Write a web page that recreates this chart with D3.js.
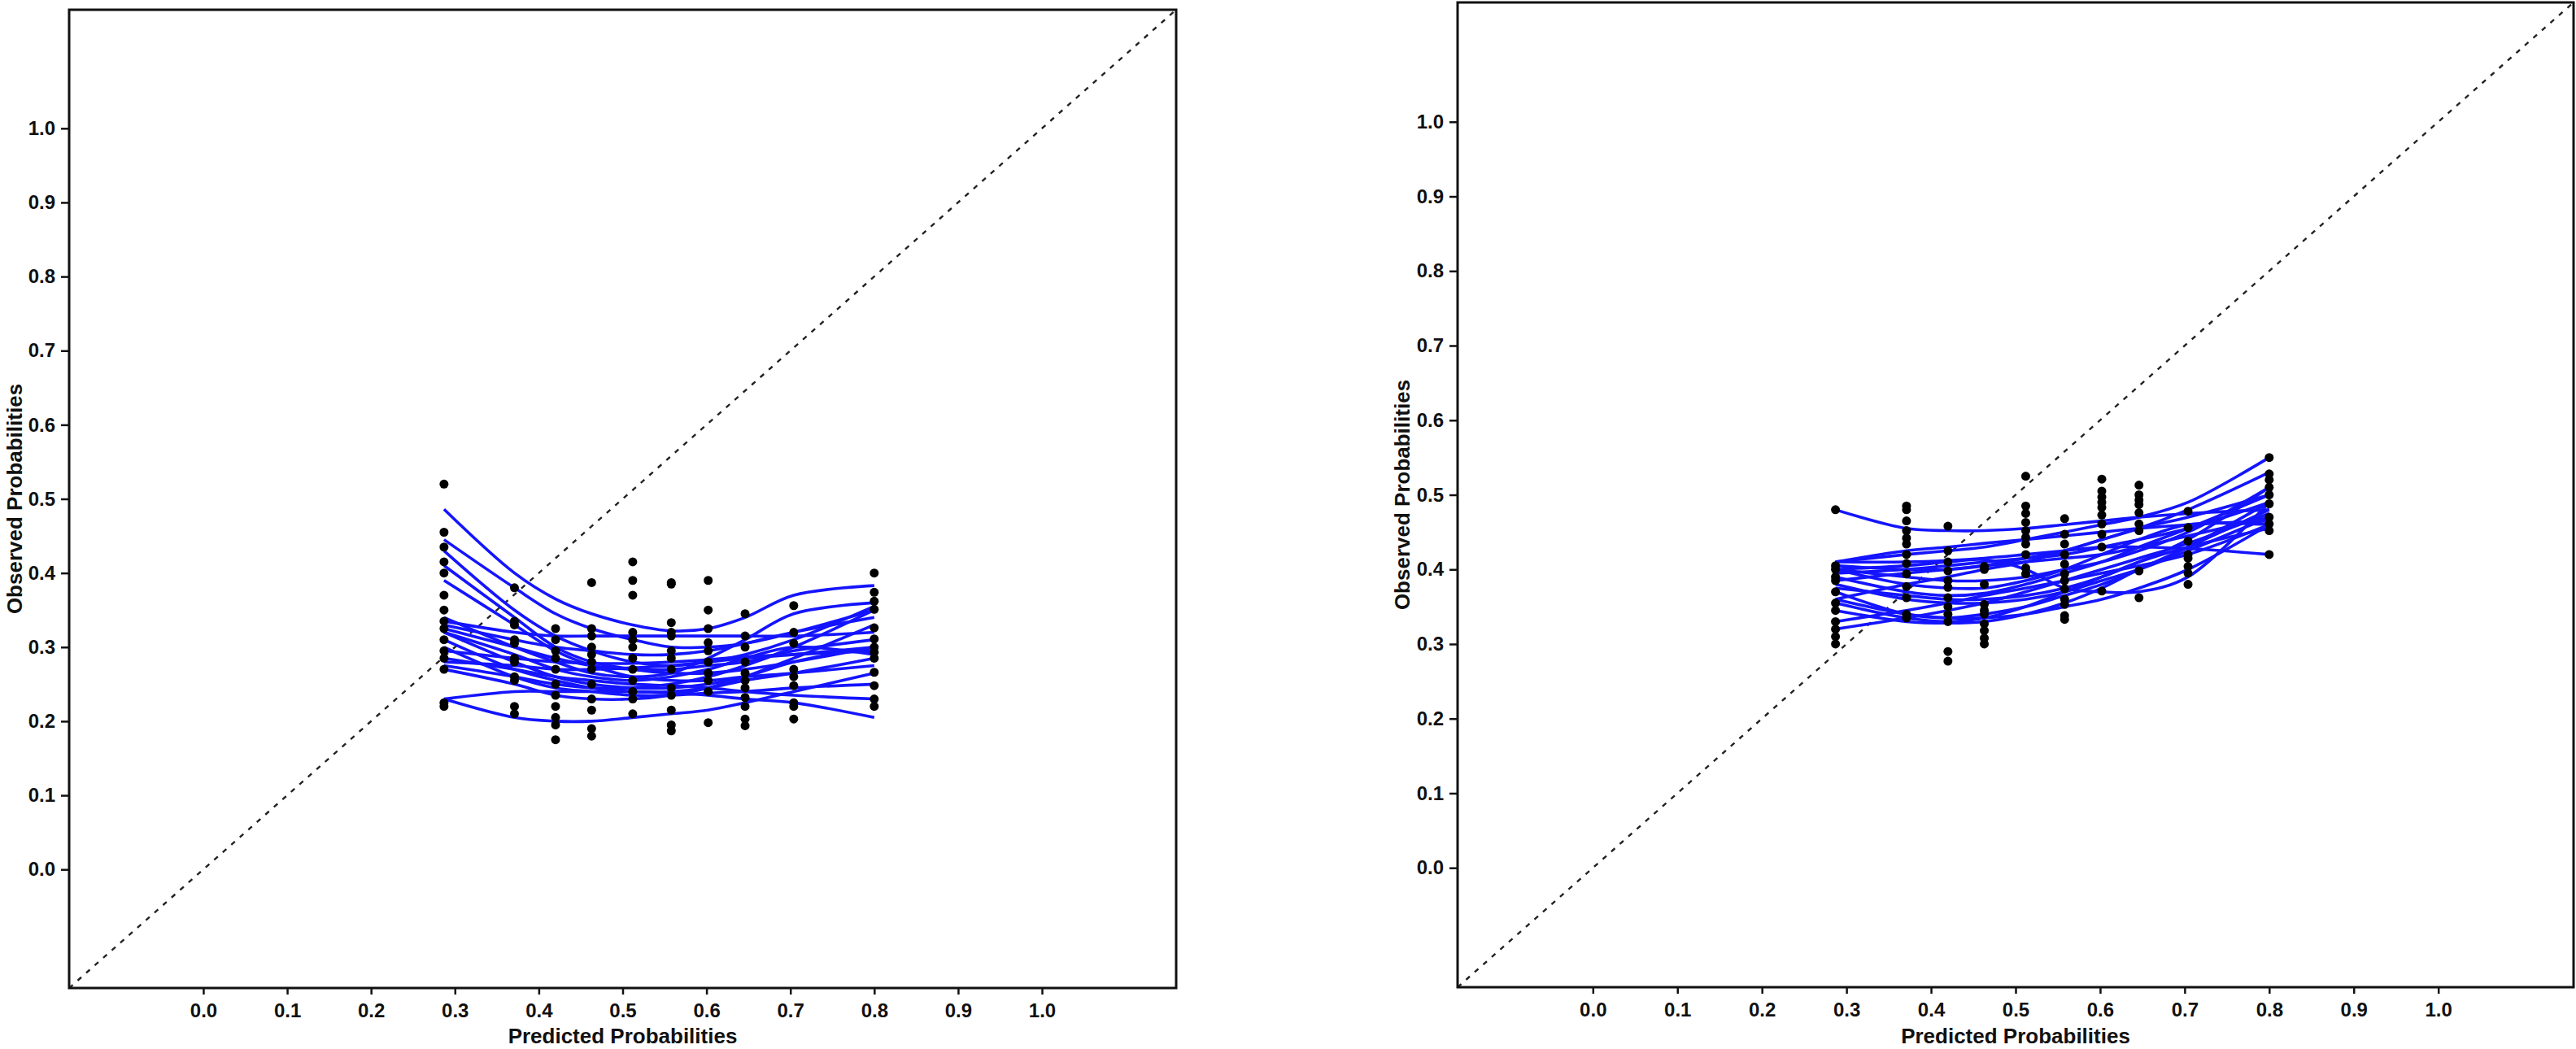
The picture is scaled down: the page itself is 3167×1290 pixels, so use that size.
<!DOCTYPE html>
<html>
<head>
<meta charset="utf-8">
<script src="https://cdn.jsdelivr.net/npm/d3@7"></script>
<style>
  body { margin: 0; background: #fff; }
  text { font-family: "Liberation Sans", Arial, sans-serif; font-weight: bold; fill: #111; }
</style>
</head>
<body>
<div id="chart-area"></div>
<script>
// predicted probability groups (shared by both panels)
const xGrid = [0.287, 0.371, 0.420, 0.463, 0.512, 0.558, 0.602, 0.646, 0.704, 0.800];
const tickValues = [0, 0.1, 0.2, 0.3, 0.4, 0.5, 0.6, 0.7, 0.8, 0.9, 1.0];

// left panel: observed values per group
const leftPoints = [
  [0.52, 0.455, 0.435, 0.415, 0.40, 0.37, 0.35, 0.335, 0.325, 0.31, 0.295, 0.285, 0.27, 0.225, 0.22],
  [0.38, 0.335, 0.33, 0.31, 0.305, 0.285, 0.28, 0.26, 0.255, 0.22, 0.21],
  [0.325, 0.31, 0.295, 0.285, 0.27, 0.25, 0.235, 0.22, 0.205, 0.195, 0.175],
  [0.387, 0.325, 0.315, 0.30, 0.29, 0.28, 0.27, 0.25, 0.23, 0.215, 0.19, 0.18],
  [0.415, 0.39, 0.37, 0.32, 0.31, 0.30, 0.285, 0.27, 0.255, 0.24, 0.23, 0.21],
  [0.387, 0.385, 0.333, 0.32, 0.315, 0.295, 0.285, 0.27, 0.245, 0.235, 0.215, 0.195, 0.187],
  [0.39, 0.35, 0.325, 0.306, 0.295, 0.28, 0.265, 0.255, 0.24, 0.198],
  [0.345, 0.315, 0.30, 0.28, 0.265, 0.255, 0.245, 0.232, 0.22, 0.203, 0.194],
  [0.356, 0.32, 0.305, 0.27, 0.26, 0.248, 0.225, 0.22, 0.203],
  [0.40, 0.374, 0.362, 0.351, 0.326, 0.311, 0.30, 0.293, 0.285, 0.266, 0.248, 0.23, 0.22]
];

// left panel: smoothed calibration curves, one value per group
const leftCurves = [
  [0.486, 0.40, 0.365, 0.345, 0.33, 0.322, 0.325, 0.34, 0.37, 0.383],
  [0.445, 0.38, 0.345, 0.325, 0.31, 0.30, 0.30, 0.305, 0.32, 0.35],
  [0.43, 0.35, 0.315, 0.295, 0.28, 0.275, 0.28, 0.29, 0.31, 0.355],
  [0.41, 0.34, 0.30, 0.28, 0.27, 0.265, 0.265, 0.27, 0.28, 0.30],
  [0.39, 0.33, 0.295, 0.275, 0.26, 0.255, 0.255, 0.26, 0.265, 0.275],
  [0.335, 0.32, 0.315, 0.315, 0.315, 0.315, 0.315, 0.315, 0.315, 0.32],
  [0.33, 0.31, 0.30, 0.295, 0.29, 0.29, 0.295, 0.305, 0.32, 0.34],
  [0.325, 0.30, 0.285, 0.275, 0.27, 0.27, 0.275, 0.28, 0.295, 0.31],
  [0.32, 0.28, 0.26, 0.25, 0.245, 0.245, 0.25, 0.26, 0.28, 0.30],
  [0.31, 0.27, 0.255, 0.245, 0.24, 0.24, 0.245, 0.255, 0.265, 0.285],
  [0.30, 0.26, 0.245, 0.24, 0.235, 0.235, 0.238, 0.24, 0.245, 0.25],
  [0.295, 0.285, 0.28, 0.278, 0.278, 0.28, 0.283, 0.287, 0.29, 0.295],
  [0.28, 0.275, 0.27, 0.27, 0.272, 0.275, 0.28, 0.285, 0.29, 0.30],
  [0.275, 0.26, 0.25, 0.245, 0.245, 0.25, 0.26, 0.275, 0.30, 0.35],
  [0.27, 0.25, 0.235, 0.23, 0.23, 0.235, 0.245, 0.26, 0.285, 0.33],
  [0.23, 0.24, 0.24, 0.24, 0.24, 0.238, 0.235, 0.23, 0.225, 0.205],
  [0.23, 0.205, 0.20, 0.20, 0.205, 0.21, 0.215, 0.225, 0.24, 0.265],
  [0.32, 0.29, 0.27, 0.26, 0.255, 0.26, 0.27, 0.285, 0.30, 0.29],
  [0.34, 0.30, 0.28, 0.265, 0.26, 0.265, 0.285, 0.31, 0.345, 0.36],
  [0.285, 0.27, 0.26, 0.255, 0.25, 0.248, 0.245, 0.24, 0.235, 0.23]
];

// right panel: observed values per group
const rightPoints = [
  [0.48, 0.405, 0.40, 0.39, 0.385, 0.37, 0.355, 0.345, 0.33, 0.32, 0.31, 0.30],
  [0.485, 0.48, 0.465, 0.452, 0.442, 0.434, 0.42, 0.408, 0.394, 0.377, 0.362, 0.34, 0.335],
  [0.458, 0.425, 0.41, 0.398, 0.385, 0.376, 0.362, 0.35, 0.34, 0.33, 0.29, 0.277],
  [0.404, 0.40, 0.38, 0.353, 0.345, 0.34, 0.327, 0.318, 0.308, 0.30],
  [0.525, 0.485, 0.475, 0.463, 0.452, 0.443, 0.434, 0.42, 0.402, 0.394],
  [0.468, 0.447, 0.434, 0.42, 0.407, 0.394, 0.385, 0.374, 0.36, 0.353, 0.338, 0.333],
  [0.521, 0.505, 0.497, 0.49, 0.483, 0.473, 0.461, 0.447, 0.43, 0.371],
  [0.513, 0.50, 0.493, 0.487, 0.476, 0.461, 0.452, 0.398, 0.362],
  [0.478, 0.456, 0.438, 0.42, 0.415, 0.404, 0.395, 0.38],
  [0.55, 0.528, 0.52, 0.51, 0.50, 0.488, 0.47, 0.461, 0.452, 0.42]
];

// right panel: smoothed calibration curves
const rightCurves = [
  [0.48, 0.455, 0.452, 0.452, 0.455, 0.46, 0.465, 0.47, 0.475, 0.48],
  [0.41, 0.42, 0.425, 0.43, 0.44, 0.45, 0.46, 0.47, 0.49, 0.55],
  [0.41, 0.41, 0.412, 0.415, 0.42, 0.425, 0.43, 0.43, 0.428, 0.42],
  [0.405, 0.40, 0.40, 0.405, 0.415, 0.425, 0.44, 0.455, 0.48, 0.53],
  [0.40, 0.39, 0.385, 0.385, 0.39, 0.40, 0.41, 0.425, 0.45, 0.51],
  [0.39, 0.37, 0.365, 0.368, 0.38, 0.395, 0.41, 0.43, 0.455, 0.50],
  [0.38, 0.36, 0.355, 0.355, 0.36, 0.37, 0.385, 0.40, 0.425, 0.47],
  [0.37, 0.34, 0.335, 0.34, 0.35, 0.365, 0.38, 0.40, 0.43, 0.49],
  [0.36, 0.34, 0.335, 0.335, 0.34, 0.35, 0.36, 0.375, 0.40, 0.46],
  [0.345, 0.33, 0.328, 0.33, 0.34, 0.355, 0.375, 0.40, 0.43, 0.48],
  [0.33, 0.345, 0.355, 0.365, 0.375, 0.385, 0.395, 0.405, 0.42, 0.46],
  [0.32, 0.335, 0.345, 0.355, 0.37, 0.385, 0.40, 0.415, 0.435, 0.475],
  [0.395, 0.40, 0.405, 0.41, 0.415, 0.42, 0.43, 0.44, 0.455, 0.49],
  [0.385, 0.395, 0.40, 0.405, 0.41, 0.415, 0.42, 0.43, 0.445, 0.47],
  [0.40, 0.405, 0.41, 0.413, 0.40, 0.375, 0.37, 0.37, 0.39, 0.49],
  [0.375, 0.365, 0.36, 0.36, 0.365, 0.375, 0.39, 0.41, 0.44, 0.51],
  [0.41, 0.425, 0.43, 0.435, 0.44, 0.445, 0.45, 0.455, 0.46, 0.465],
  [0.40, 0.38, 0.375, 0.375, 0.385, 0.40, 0.42, 0.44, 0.46, 0.46],
  [0.36, 0.38, 0.39, 0.40, 0.41, 0.425, 0.44, 0.455, 0.47, 0.50],
  [0.355, 0.335, 0.33, 0.335, 0.35, 0.37, 0.39, 0.41, 0.43, 0.455]
];

const width = 3167;
const height = 1290;
const domain = [-0.16, 1.16];

const panels = [
  { left: 85, right: 1446, top: 12, bottom: 1215, titleX: 27, points: leftPoints, curves: leftCurves },
  { left: 1792, right: 3164, top: 3, bottom: 1214, titleX: 1733, points: rightPoints, curves: rightCurves }
];

const svg = d3.select("#chart-area")
  .append("svg")
  .attr("width", width)
  .attr("height", height)
  .style("display", "block");

svg.append("rect")
  .attr("width", width)
  .attr("height", height)
  .attr("fill", "#fff");

panels.forEach((p, i) => {
  const x = d3.scaleLinear().domain(domain).range([p.left, p.right]);
  const y = d3.scaleLinear().domain(domain).range([p.bottom, p.top]);

  const g = svg.append("g");

  g.append("clipPath")
    .attr("id", "clip" + i)
    .append("rect")
    .attr("x", p.left)
    .attr("y", p.top)
    .attr("width", p.right - p.left)
    .attr("height", p.bottom - p.top);

  const plot = g.append("g").attr("clip-path", `url(#clip${i})`);

  // reference diagonal
  plot.append("line")
    .attr("x1", x(domain[0]))
    .attr("y1", y(domain[0]))
    .attr("x2", x(domain[1]))
    .attr("y2", y(domain[1]))
    .attr("stroke", "#222")
    .attr("stroke-width", 2.4)
    .attr("stroke-dasharray", "6,8");

  const line = d3.line()
    .x((d, j) => x(xGrid[j]))
    .y(d => y(d))
    .curve(d3.curveCatmullRom.alpha(0.5));

  plot.selectAll("path.curve")
    .data(p.curves)
    .enter()
    .append("path")
    .attr("class", "curve")
    .attr("d", line)
    .attr("fill", "none")
    .attr("stroke", "#1414ff")
    .attr("stroke-width", 3.6);

  const dots = [];
  p.points.forEach((col, j) => col.forEach(v => dots.push({ x: xGrid[j], y: v })));

  plot.selectAll("circle")
    .data(dots)
    .enter()
    .append("circle")
    .attr("cx", d => x(d.x))
    .attr("cy", d => y(d.y))
    .attr("r", 5.5)
    .attr("fill", "#000");

  // frame
  g.append("rect")
    .attr("x", p.left)
    .attr("y", p.top)
    .attr("width", p.right - p.left)
    .attr("height", p.bottom - p.top)
    .attr("fill", "none")
    .attr("stroke", "#111")
    .attr("stroke-width", 3);

  const xAxisCall = d3.axisBottom(x)
    .tickValues(tickValues)
    .tickFormat(d3.format(".1f"))
    .tickSize(7)
    .tickPadding(11);

  const yAxisCall = d3.axisLeft(y)
    .tickValues(tickValues)
    .tickFormat(d3.format(".1f"))
    .tickSize(9)
    .tickPadding(7);

  const xAxisGroup = g.append("g")
    .attr("transform", `translate(0, ${p.bottom + 1})`)
    .call(xAxisCall);

  const yAxisGroup = g.append("g")
    .attr("transform", `translate(${p.left - 1}, 0)`)
    .call(yAxisCall);

  [xAxisGroup, yAxisGroup].forEach(a => {
    a.select(".domain").remove();
    a.selectAll("line").attr("stroke", "#111").attr("stroke-width", 2.5);
    a.selectAll("text")
      .attr("font-size", "24px")
      .attr("font-family", "Liberation Sans, Arial, sans-serif")
      .attr("font-weight", "bold")
      .attr("fill", "#111");
  });

  g.append("text")
    .attr("x", (p.left + p.right) / 2)
    .attr("y", 1283)
    .attr("text-anchor", "middle")
    .attr("font-size", "26px")
    .text("Predicted Probabilities");

  g.append("text")
    .attr("transform", "rotate(-90)")
    .attr("x", -(p.top + p.bottom) / 2)
    .attr("y", p.titleX)
    .attr("text-anchor", "middle")
    .attr("font-size", "26px")
    .text("Observed Probabilities");
});
</script>
</body>
</html>
